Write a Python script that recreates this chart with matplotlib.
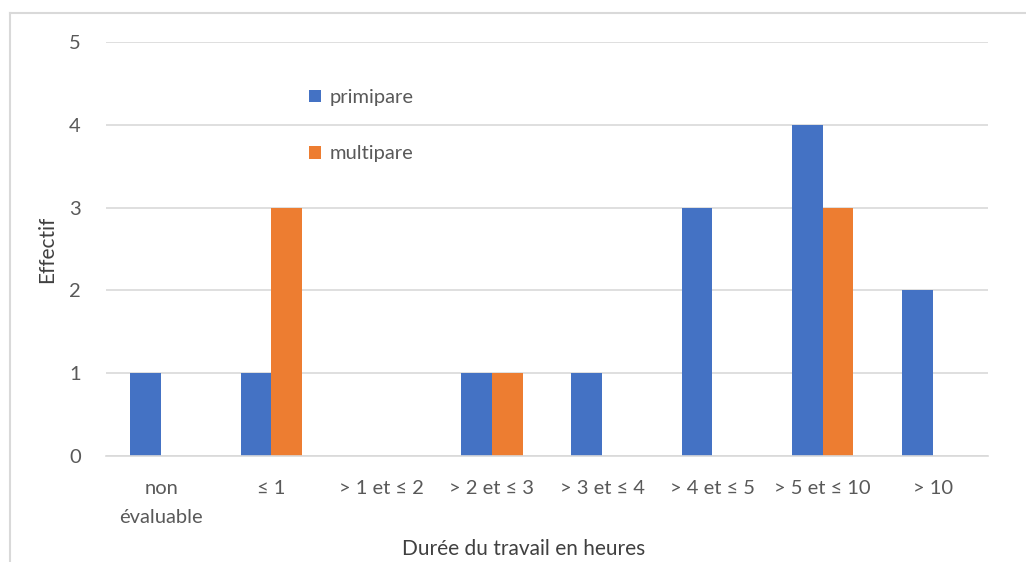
import numpy as np
import matplotlib
matplotlib.use("Agg")
import matplotlib.pyplot as plt
from matplotlib.lines import Line2D

plt.rcParams['font.family'] = ['Lato', 'DejaVu Sans']

categories = ["non\névaluable", "≤ 1", "> 1 et ≤ 2", "> 2 et ≤ 3", "> 3 et ≤ 4",
              "> 4 et ≤ 5", "> 5 et ≤ 10", "> 10"]
primipare = [1, 1, 0, 1, 1, 3, 4, 2]
multipare = [0, 3, 0, 1, 0, 0, 3, 0]
y_ticks = [0, 1, 2, 3, 4, 5]

blue = "#4472c4"
orange = "#ed7d31"
grey = "#d9d9d9"
text_col = "#595959"

fig = plt.figure(figsize=(10.26, 5.62), dpi=100)
ax = fig.add_axes([106 / 1026, 1 - 456 / 562, 882 / 1026, 414 / 562])

x = np.arange(len(categories))
w = 0.28
ax.bar(x - w / 2, primipare, w, color=blue, label="primipare", zorder=3)
ax.bar(x + w / 2, multipare, w, color=orange, label="multipare", zorder=3)

ax.set_xlim(-0.5, len(categories) - 0.5)
ax.set_ylim(0, 5)
ax.set_yticks(y_ticks)
ax.set_xticks(x)
ax.set_xticklabels(categories, fontsize=14.5, color=text_col, linespacing=1.85)
ax.tick_params(axis="y", labelsize=14.5, labelcolor=text_col, length=0, pad=18)
ax.tick_params(axis="x", length=0, pad=17)
ax.yaxis.grid(True, color=grey, linewidth=1.2, zorder=0)
for s in ["top", "right", "left"]:
    ax.spines[s].set_visible(False)
ax.spines["bottom"].set_color(grey)
ax.spines["bottom"].set_linewidth(1.2)
ax.spines["bottom"].set_zorder(4)

ax.set_xlabel("Durée du travail en heures", fontsize=15, color="#404040")
ax.xaxis.set_label_coords(0.473, -0.2)
ax.set_ylabel("Effectif", fontsize=15, color="#404040", labelpad=9)

ax.legend(loc="upper left", bbox_to_anchor=(0.21, 0.93), frameon=False,
          fontsize=14.5, labelcolor=text_col, handlelength=0.6, handleheight=0.6,
          handletextpad=0.4, labelspacing=1.95)

# chart frame (partially cut off on the right and bottom)
fig.add_artist(Line2D([10 / 1026, 1], [1 - 13 / 562, 1 - 13 / 562], color=grey, lw=1.5))
fig.add_artist(Line2D([10 / 1026, 10 / 1026], [0, 1 - 13 / 562], color=grey, lw=1.5))

fig.savefig("out.png", dpi=100)
